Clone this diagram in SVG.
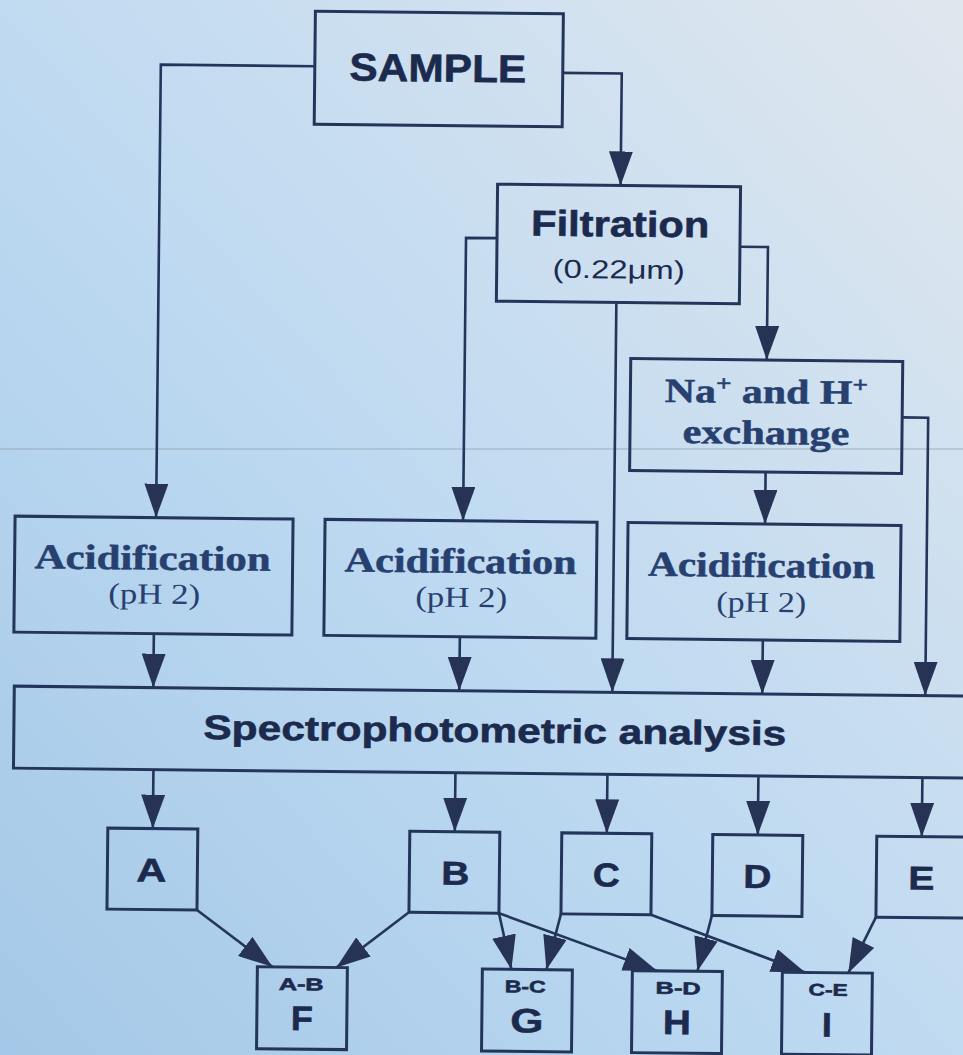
<svg xmlns="http://www.w3.org/2000/svg" width="963" height="1055" viewBox="0 0 963 1055">
<defs>
<linearGradient id="bg" x1="0" y1="1" x2="1" y2="0">
<stop offset="0" stop-color="#a4c8e7"/>
<stop offset="0.45" stop-color="#bdd9f1"/>
<stop offset="1" stop-color="#e0e7ee"/>
</linearGradient>
<marker id="ah" viewBox="0 0 34 24" refX="34" refY="12" markerWidth="34" markerHeight="24" markerUnits="userSpaceOnUse" orient="auto">
<path d="M0,0 L34,12 L0,24 Z" fill="#263354"/>
</marker>
<style>
.box{fill:none;stroke:#24355b;stroke-width:3}
.ln{fill:none;stroke:#24355b;stroke-width:2.6;marker-end:url(#ah)}
.sans{font-family:"Liberation Sans",Arial,sans-serif;font-weight:bold;fill:#1c2a4e;stroke:#1c2a4e;stroke-width:0.6;text-anchor:middle}
.serb{font-family:"Liberation Serif","Times New Roman",serif;font-weight:bold;fill:#27406f;stroke:#27406f;stroke-width:0.5;text-anchor:middle}
.ser{font-family:"Liberation Serif","Times New Roman",serif;fill:#27406f;text-anchor:middle}
.reg{font-family:"Liberation Sans",Arial,sans-serif;fill:#1c2a4e;text-anchor:middle}
</style>
</defs>
<rect x="0" y="0" width="963" height="1055" fill="url(#bg)"/>
<line x1="0" y1="449" x2="963" y2="449" stroke="#8d9aa6" stroke-width="1" opacity="0.7"/>
<g transform="rotate(0.6 480 527)">
<g id="connectors">
<path class="ln" d="M310,68 H156 V521"/>
<path class="ln" d="M558,72 H617 V184"/>
<path class="ln" d="M494,238 H463 V521"/>
<path class="ln" d="M614,301 V691"/>
<path class="ln" d="M737,244 H765 V357"/>
<path class="ln" d="M901,413 H927 V691"/>
<path class="ln" d="M765,469 V521"/>
<path class="ln" d="M155,637 V691"/>
<path class="ln" d="M461,637 V691"/>
<path class="ln" d="M764,637 V691"/>
<path class="ln" d="M156,773 V832"/>
<path class="ln" d="M458,773 V832"/>
<path class="ln" d="M610,773 V832"/>
<path class="ln" d="M761,773 V832"/>
<path class="ln" d="M925,773 V832"/>
<path class="ln" d="M201,913 L277,969"/>
<path class="ln" d="M413,913 L341,969"/>
<path class="ln" d="M503,913 L516,969"/>
<path class="ln" d="M565,913 L551,969"/>
<path class="ln" d="M503,913 L662,969"/>
<path class="ln" d="M655,913 L810,969"/>
<path class="ln" d="M716,913 L702,969"/>
<path class="ln" d="M880,913 L853,969"/>
</g>
<g id="sample">
<rect class="box" x="310" y="13" width="248" height="113"/>
<text class="sans" x="433" y="82" font-size="39" textLength="177" lengthAdjust="spacingAndGlyphs">SAMPLE</text>
</g>
<g id="filtration">
<rect class="box" x="494" y="184" width="243" height="117"/>
<text class="sans" x="617" y="235" font-size="36" textLength="178" lengthAdjust="spacingAndGlyphs">Filtration</text>
<text class="reg" x="616" y="277" font-size="26" textLength="132" lengthAdjust="spacingAndGlyphs">(0.22μm)</text>
</g>
<g id="exchange">
<rect class="box" x="629" y="357" width="272" height="112"/>
<text class="serb" x="765" y="400" font-size="34" textLength="203" lengthAdjust="spacingAndGlyphs">Na<tspan font-size="22" dy="-12">+</tspan><tspan dy="12"> and H</tspan><tspan font-size="22" dy="-12">+</tspan></text>
<text class="serb" x="765" y="441" font-size="34" textLength="167" lengthAdjust="spacingAndGlyphs">exchange</text>
</g>
<g id="acid1">
<rect class="box" x="15" y="521" width="278" height="116"/>
<text class="serb" x="153" y="573" font-size="35" textLength="236" lengthAdjust="spacingAndGlyphs">Acidification</text>
<text class="ser" x="155" y="607" font-size="29" textLength="92" lengthAdjust="spacingAndGlyphs">(pH 2)</text>
</g>
<g id="acid2">
<rect class="box" x="325" y="521" width="272" height="116"/>
<text class="serb" x="461" y="573" font-size="35" textLength="232" lengthAdjust="spacingAndGlyphs">Acidification</text>
<text class="ser" x="462" y="607" font-size="29" textLength="92" lengthAdjust="spacingAndGlyphs">(pH 2)</text>
</g>
<g id="acid3">
<rect class="box" x="628" y="521" width="273" height="116"/>
<text class="serb" x="762" y="574" font-size="35" textLength="227" lengthAdjust="spacingAndGlyphs">Acidification</text>
<text class="ser" x="762" y="609" font-size="29" textLength="90" lengthAdjust="spacingAndGlyphs">(pH 2)</text>
</g>
<g id="spectro">
<rect class="box" x="16" y="691" width="990" height="82"/>
<text class="sans" x="497" y="742" font-size="34" textLength="583" lengthAdjust="spacingAndGlyphs">Spectrophotometric analysis</text>
</g>
<g id="A">
<rect class="box" x="111" y="832" width="90" height="81"/>
<text class="sans" x="155" y="885" font-size="33" textLength="30" lengthAdjust="spacingAndGlyphs">A</text>
</g>
<g id="B">
<rect class="box" x="413" y="832" width="90" height="81"/>
<text class="sans" x="459" y="885" font-size="33" textLength="28" lengthAdjust="spacingAndGlyphs">B</text>
</g>
<g id="C">
<rect class="box" x="565" y="832" width="90" height="81"/>
<text class="sans" x="610" y="885" font-size="33" textLength="27" lengthAdjust="spacingAndGlyphs">C</text>
</g>
<g id="D">
<rect class="box" x="716" y="832" width="90" height="81"/>
<text class="sans" x="761" y="885" font-size="33" textLength="28" lengthAdjust="spacingAndGlyphs">D</text>
</g>
<g id="E">
<rect class="box" x="880" y="832" width="90" height="81"/>
<text class="sans" x="925" y="885" font-size="33" textLength="26" lengthAdjust="spacingAndGlyphs">E</text>
</g>
<g id="F">
<rect class="box" x="262" y="969" width="90" height="82"/>
<text class="sans" x="306" y="992" font-size="17" textLength="45" lengthAdjust="spacingAndGlyphs">A-B</text>
<text class="sans" x="307" y="1032" font-size="34" textLength="22" lengthAdjust="spacingAndGlyphs">F</text>
</g>
<g id="G">
<rect class="box" x="487" y="969" width="90" height="82"/>
<text class="sans" x="530" y="992" font-size="17" textLength="41" lengthAdjust="spacingAndGlyphs">B-C</text>
<text class="sans" x="532" y="1032" font-size="34" textLength="33" lengthAdjust="spacingAndGlyphs">G</text>
</g>
<g id="H">
<rect class="box" x="637" y="969" width="90" height="82"/>
<text class="sans" x="683" y="992" font-size="17" textLength="45" lengthAdjust="spacingAndGlyphs">B-D</text>
<text class="sans" x="682" y="1032" font-size="34" textLength="28" lengthAdjust="spacingAndGlyphs">H</text>
</g>
<g id="I">
<rect class="box" x="787" y="969" width="90" height="82"/>
<text class="sans" x="833" y="992" font-size="17" textLength="39" lengthAdjust="spacingAndGlyphs">C-E</text>
<text class="sans" x="832" y="1033" font-size="34" textLength="10" lengthAdjust="spacingAndGlyphs">I</text>
</g>
</g>
</svg>
